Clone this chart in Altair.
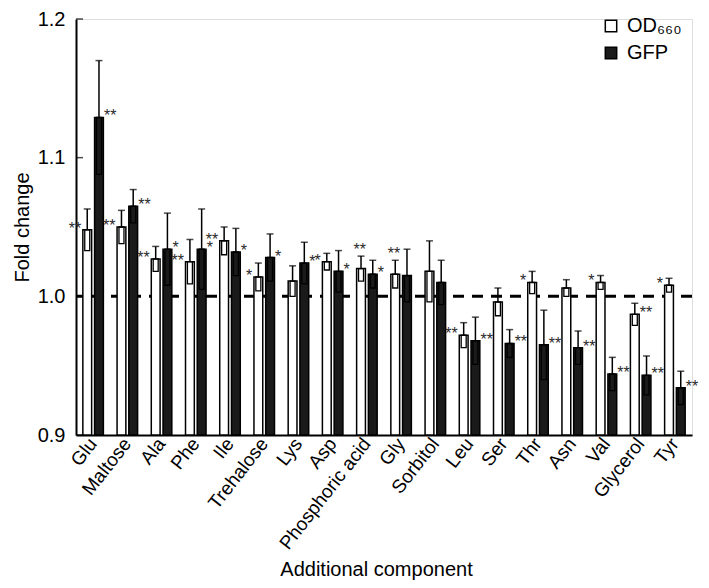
import altair as alt
import pandas as pd

components = ["Glu", "Maltose", "Ala", "Phe", "Ile", "Trehalose", "Lys", "Asp",
              "Phosphoric acid", "Gly", "Sorbitol", "Leu", "Ser", "Thr", "Asn",
              "Val", "Glycerol", "Tyr"]
series_names = ["OD₆₆₀", "GFP"]

od_values = [1.048, 1.050, 1.027, 1.025, 1.040, 1.014, 1.011, 1.025, 1.020,
             1.016, 1.018, 0.972, 0.996, 1.010, 1.006, 1.010, 0.987, 1.008]
od_errors = [0.015, 0.012, 0.009, 0.016, 0.010, 0.010, 0.011, 0.006, 0.009,
             0.010, 0.022, 0.009, 0.010, 0.008, 0.006, 0.005, 0.008, 0.005]
gfp_values = [1.129, 1.065, 1.034, 1.034, 1.032, 1.028, 1.024, 1.018, 1.016,
              1.015, 1.010, 0.968, 0.966, 0.965, 0.963, 0.944, 0.943, 0.934]
gfp_errors = [0.041, 0.012, 0.026, 0.029, 0.017, 0.017, 0.015, 0.015, 0.010,
              0.019, 0.016, 0.017, 0.010, 0.025, 0.012, 0.012, 0.014, 0.012]

od_stars = ["**", "**", "**", "**", "**", "*", "", "*", "**", "**", "", "**",
            "", "*", "", "*", "**", "*"]
od_star_side = ["left", "left", "left", "left", "left", "left", "left", "left",
                "top", "top", "left", "left", "left", "left", "left", "left",
                "right", "left"]
gfp_stars = ["**", "**", "*", "*", "*", "*", "*", "*", "*", "", "", "**", "**",
             "**", "**", "**", "**", "**"]

y_ticks = [0.9, 1.0, 1.1, 1.2]

rows = []
for i, c in enumerate(components):
    rows.append(dict(component=c, series=series_names[0], value=od_values[i],
                     err=od_errors[i], star=od_stars[i], side=od_star_side[i]))
    rows.append(dict(component=c, series=series_names[1], value=gfp_values[i],
                     err=gfp_errors[i], star=gfp_stars[i], side="right"))
df = pd.DataFrame(rows)
df["lower"] = df["value"] - df["err"]
df["upper"] = df["value"] + df["err"]

FONT = "Liberation Sans"

x_axis = alt.Axis(labelAngle=-52, labelAlign="right", labelBaseline="middle",
                  labelFontSize=19, labelFont=FONT, labelColor="black",
                  ticks=False, labelPadding=5, domainColor="black", domainWidth=2,
                  labelOverlap=False, labelLimit=300,
                  titleFont=FONT, titleFontSize=20, titleFontWeight="normal",
                  titleColor="black", titleX=300, titleY=134,
                  titleBaseline="middle")
y_axis = alt.Axis(values=y_ticks, format=".1f", tickSize=0, labelPadding=11,
                  labelFont=FONT, labelFontSize=20, labelColor="black",
                  domainColor="black", domainWidth=2, grid=False,
                  titleFont=FONT, titleFontSize=20, titleFontWeight="normal",
                  titleColor="black", titlePadding=5)
y_scale = alt.Scale(domain=[0.9, 1.2], nice=False, zero=False)

x_enc = alt.X("component:N", sort=components, title="Additional component",
              scale=alt.Scale(paddingInner=0.4, paddingOuter=0.2), axis=x_axis)
xo_enc = alt.XOffset("series:N", sort=series_names,
                     scale=alt.Scale(domain=series_names, paddingInner=0.25, paddingOuter=0))


def Y(field):
    return alt.Y(field, scale=y_scale, axis=y_axis, title="Fold change")


base = alt.Chart(df).encode(x=x_enc, xOffset=xo_enc)

ref = alt.Chart(pd.DataFrame({"ref": [1.0]})).mark_rule(
    color="black", strokeWidth=3, strokeDash=[11, 8]).encode(y=Y("ref:Q"))

axis_ticks = alt.Chart(pd.DataFrame({"t": y_ticks})).mark_tick(
    orient="horizontal", color="black", size=7, thickness=1.5).encode(
    y=Y("t:Q"), x=alt.value(3.5))

bars = base.mark_bar(stroke="black", strokeWidth=1.5).encode(
    y=Y("value:Q"),
    y2=alt.datum(0.9),
    fill=alt.Fill("series:N", sort=series_names,
                  scale=alt.Scale(domain=series_names, range=["white", "#1a1a1a"]),
                  legend=alt.Legend(title=None, orient="none", legendX=525, legendY=-3,
                                    symbolType="square", symbolSize=130,
                                    symbolStrokeColor="black", symbolStrokeWidth=1.5,
                                    labelFont=FONT, labelFontSize=20, labelColor="black",
                                    labelOffset=6, rowPadding=7)),
)

box = base.mark_bar(width=5, fillOpacity=0, stroke="black", strokeWidth=1.3).encode(
    y=Y("lower:Q"), y2="value:Q")
rule = base.mark_rule(color="black", strokeWidth=1.5).encode(y=Y("value:Q"), y2="upper:Q")
cap = base.mark_tick(orient="horizontal", color="black", size=7, thickness=1.5).encode(
    y=Y("upper:Q"))

star_style = dict(font=FONT, fontSize=16, fill="#2a2a2a", baseline="middle")
stars_left = base.transform_filter(alt.datum.side == "left").mark_text(
    align="right", dx=-6, dy=-1, **star_style).encode(y=Y("value:Q"), text="star:N")
stars_right = base.transform_filter(alt.datum.side == "right").mark_text(
    align="left", dx=5, dy=-1, **star_style).encode(y=Y("value:Q"), text="star:N")
stars_top = base.transform_filter(alt.datum.side == "top").mark_text(
    align="right", dx=5, dy=-6, **star_style).encode(y=Y("upper:Q"), text="star:N")

chart = alt.layer(ref, bars, box, rule, cap, stars_left, stars_right, stars_top,
                  axis_ticks).properties(
    width=616, height=416,
    autosize=alt.AutoSizeParams(type="none"),
    padding={"left": 68, "top": 11, "right": 9, "bottom": 145},
).configure_view(stroke=None).configure(background="white")

chart.save("out.html", embed_options={"renderer": "svg", "actions": False})
